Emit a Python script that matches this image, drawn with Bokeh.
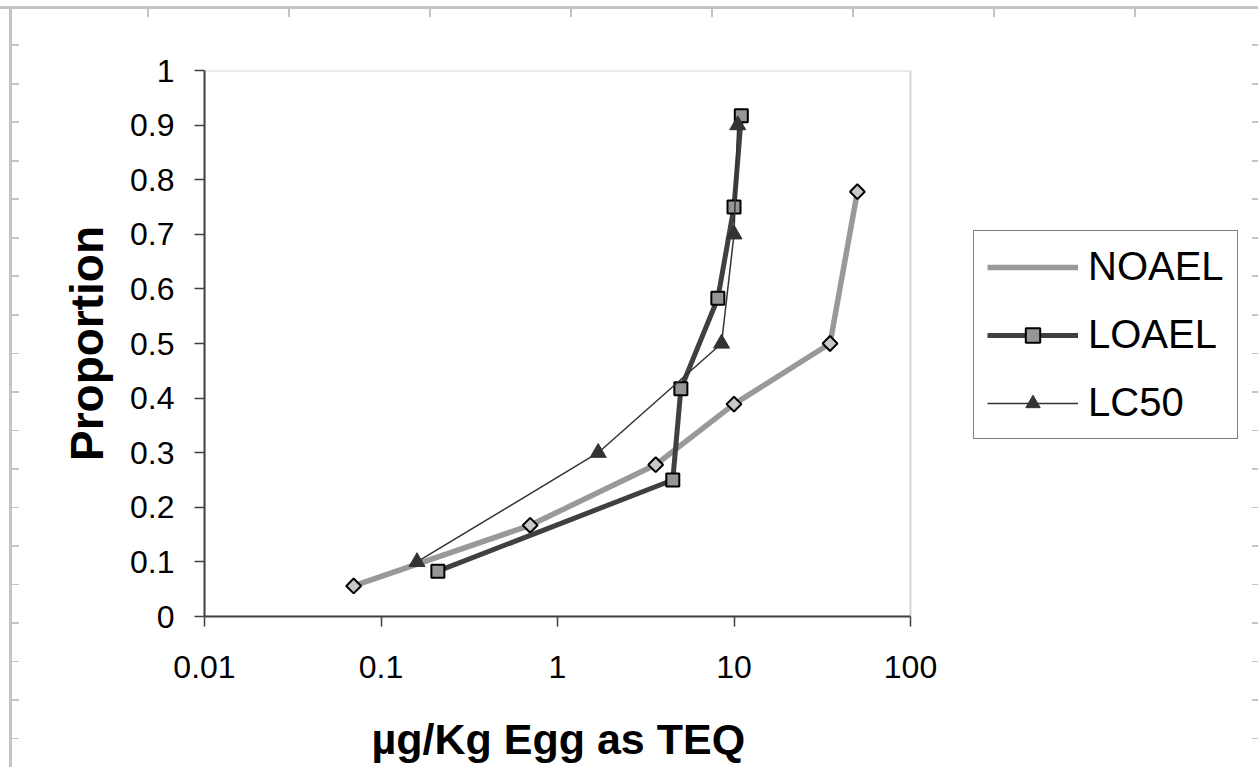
import math
from bokeh.plotting import figure
from bokeh.models import Range1d, FixedTicker, Legend, LegendItem, BoxAnnotation, Title
from bokeh.embed import file_html
from bokeh.resources import INLINE

# ---- data ----
noael_x = [0.07, 0.70, 3.6, 10.0, 35.0, 50.0]
noael_y = [0.056, 0.167, 0.278, 0.389, 0.500, 0.778]

loael_x = [0.21, 4.5, 5.0, 8.1, 10.0, 11.0]
loael_y = [0.083, 0.250, 0.417, 0.583, 0.750, 0.917]

lc50_x = [0.16, 1.7, 8.5, 10.0, 10.5]
lc50_y = [0.10, 0.30, 0.50, 0.70, 0.90]

x_ticks = [0.01, 0.1, 1, 10, 100]
x_tick_labels = ["0.01", "0.1", "1", "10", "100"]
y_ticks = [0, 0.1, 0.2, 0.3, 0.4, 0.5, 0.6, 0.7, 0.8, 0.9, 1.0]
y_tick_labels = ["0", "0.1", "0.2", "0.3", "0.4", "0.5", "0.6", "0.7", "0.8", "0.9", "1"]

series_names = ["NOAEL", "LOAEL", "LC50"]
x_title = "µg/Kg Egg as TEQ"
y_title = "Proportion"

X_MIN, X_MAX = x_ticks[0], x_ticks[-1]
Y_MIN, Y_MAX = y_ticks[0], y_ticks[-1]

FONT = "Liberation Sans"
DECOR = "#c4c4c4"

W, H = 1258, 767
styles = {
    "background-image": (
        f"linear-gradient({DECOR},{DECOR}), "
        f"linear-gradient({DECOR},{DECOR}), "
        f"repeating-linear-gradient(to right, transparent 0px, transparent 139px, {DECOR} 139px, {DECOR} 141px), "
        f"repeating-linear-gradient(to bottom, transparent 0px, transparent 36.5px, {DECOR} 36.5px, {DECOR} 38.5px), "
        f"repeating-linear-gradient(to bottom, transparent 0px, transparent 36.5px, {DECOR} 36.5px, {DECOR} 38.5px)"
    ),
    "background-size": "100% 3px, 3px 100%, 100% 11px, 10px 100%, 6px 100%",
    "background-position": "0 6px, 9px 6px, 8px 6px, 9px 8px, right 0 top 8px",
    "background-repeat": "no-repeat, no-repeat, no-repeat, no-repeat, no-repeat",
}

# layout in pixels: plot box 204..910 (x), 70..616 (y); the frame is widened to the
# right so that the legend (placed beside the plot box) is not clipped.
PL, PR, PT, PB = 204, 910, 70, 616
FRAME_R = 1250
decade_px = (PR - PL) / math.log10(X_MAX / X_MIN)
x_end = X_MIN * 10 ** ((FRAME_R - PL) / decade_px)

p = figure(width=W, height=H, x_axis_type="log",
           x_range=Range1d(X_MIN, x_end), y_range=Range1d(Y_MIN, Y_MAX),
           output_backend="svg", toolbar_location=None,
           min_border_left=PL, min_border_right=W - FRAME_R,
           min_border_top=PT, min_border_bottom=H - PB,
           styles=styles)
p.border_fill_color = None
p.background_fill_color = "white"
p.outline_line_color = None
p.xgrid.visible = False
p.ygrid.visible = False

# plot-area box (gray top/right edges like the original)
p.add_layout(BoxAnnotation(left=X_MIN, right=X_MAX, bottom=Y_MIN, top=Y_MAX,
                           fill_color=None, line_color="#767676", line_width=2,
                           level="underlay"))

for ax in (p.xaxis[0], p.yaxis[0]):
    ax.axis_line_color = "#404040"
    ax.axis_line_width = 2
    ax.major_tick_line_color = "#404040"
    ax.major_tick_line_width = 1.5
    ax.major_tick_out = 10
    ax.major_tick_in = 0
    ax.minor_tick_line_color = None
    ax.major_label_text_font = FONT
    ax.major_label_text_font_size = "32px"
    ax.major_label_text_color = "black"
    ax.axis_label_text_font = FONT
    ax.axis_label_text_font_style = "bold"
    ax.axis_label_text_color = "black"

p.xaxis.bounds = (X_MIN, X_MAX)
p.xaxis.ticker = FixedTicker(ticks=x_ticks)
p.xaxis.major_label_overrides = {t: l for t, l in zip(x_ticks, x_tick_labels)}
p.yaxis.ticker = FixedTicker(ticks=y_ticks)
p.yaxis.major_label_overrides = {t: l for t, l in zip(y_ticks, y_tick_labels)}
p.yaxis.axis_label = y_title
p.yaxis.axis_label_text_font_size = "46px"
p.xaxis.major_label_standoff = 29
p.yaxis.major_label_standoff = 20
p.yaxis.axis_label_standoff = 14

# spacer between tick labels and the x title
p.add_layout(Title(text=" ", text_font=FONT, text_font_size="13px"), "below")
# x-axis title, centred under the plot box (not under the widened frame)
XT_W = 372
p.add_layout(Title(text=x_title, text_font=FONT, text_font_size="43px",
                   text_font_style="bold", text_color="black",
                   align="left", offset=(PR - PL) / 2 - XT_W / 2), "below")

# NOAEL
l1 = p.line(noael_x, noael_y, line_color="#999999", line_width=5.5)
m1 = p.scatter(noael_x, noael_y, marker="square", angle=math.pi / 4, size=10.5,
               fill_color="#c8c8c8", line_color="black", line_width=2)
# legend-only marker for NOAEL (legend glyphs are drawn unrotated)
m1_leg = p.scatter(x=[], y=[], marker="diamond",
                   fill_color="#c8c8c8", line_color="black", line_width=2)
# LOAEL
l2 = p.line(loael_x, loael_y, line_color="#404040", line_width=5)
m2 = p.scatter(loael_x, loael_y, marker="square", size=13,
               fill_color="#969696", line_color="black", line_width=2)
# LC50
l3 = p.line(lc50_x, lc50_y, line_color="#333333", line_width=1.5)
m3 = p.scatter(lc50_x, lc50_y, marker="triangle", size=16,
               fill_color="#333333", line_color="#333333", line_width=1)

legend = Legend(items=[
    LegendItem(label=series_names[0], renderers=[l1, m1_leg]),
    LegendItem(label=series_names[1], renderers=[l2, m2]),
    LegendItem(label=series_names[2], renderers=[l3, m3]),
], location=(973 - PL, PB - 439))
legend.label_text_font = FONT
legend.label_text_font_size = "40px"
legend.label_text_color = "black"
legend.glyph_width = 91
legend.glyph_height = 36
legend.label_height = 40
legend.label_standoff = 10
legend.spacing = 23
legend.padding = 13
legend.margin = 0
legend.border_line_color = "black"
legend.border_line_width = 1
legend.background_fill_color = "white"
legend.background_fill_alpha = 1
p.add_layout(legend, "center")

open("out.html", "w").write(file_html(p, INLINE))
